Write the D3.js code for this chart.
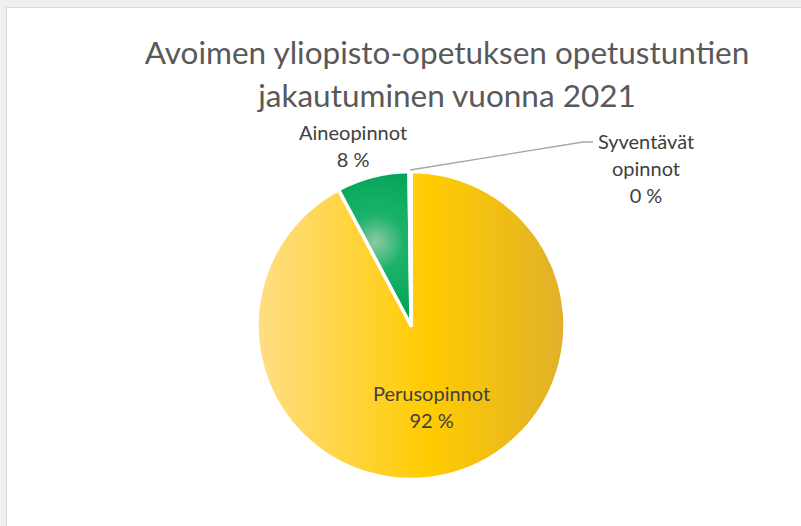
<!DOCTYPE html>
<html>
<head>
<meta charset="utf-8">
<script src="https://cdn.jsdelivr.net/npm/d3@7"></script>
<style>
  html, body { margin: 0; padding: 0; background: #f0f0f0; }
  svg { display: block; }
  text { font-family: Lato, "Open Sans", sans-serif; }
</style>
</head>
<body>
<svg id="chart" width="801" height="526"></svg>
<script>
// ---- data ----
const titleLines = ["Avoimen yliopisto-opetuksen opetustuntien", "jakautuminen vuonna 2021"];
const categories = ["Perusopinnot", "Aineopinnot", "Syventävät opinnot"];
const labelLines = [["Perusopinnot"], ["Aineopinnot"], ["Syventävät", "opinnot"]];
const shares = [92.2, 7.6, 0.2];

// ---- layout ----
const W = 801, H = 526;
const cx = 411, cy = 325.5, r = 154;

const svg = d3.select("#chart");
const defs = svg.append("defs");

// chart area (white panel with thin border)
svg.append("rect")
  .attr("x", 6.5).attr("y", 7.5)
  .attr("width", W).attr("height", H)
  .attr("fill", "#ffffff")
  .attr("stroke", "#d9d9d9");

// gradients (user space = the pie group, origin at pie centre)
const yellowGrad = defs.append("linearGradient")
  .attr("id", "gradYellow")
  .attr("gradientUnits", "userSpaceOnUse")
  .attr("x1", -r).attr("x2", r).attr("y1", 0).attr("y2", 0);
yellowGrad.append("stop").attr("offset", "0%").attr("stop-color", "#ffde85");
yellowGrad.append("stop").attr("offset", "56%").attr("stop-color", "#ffcc00");
yellowGrad.append("stop").attr("offset", "100%").attr("stop-color", "#e1b02a");

const greenGrad = defs.append("radialGradient")
  .attr("id", "gradGreen")
  .attr("gradientUnits", "userSpaceOnUse")
  .attr("cx", -35).attr("cy", -83).attr("r", 80);
greenGrad.append("stop").attr("offset", "0%").attr("stop-color", "#8ccaa2");
greenGrad.append("stop").attr("offset", "35%").attr("stop-color", "#1cb26b");
greenGrad.append("stop").attr("offset", "100%").attr("stop-color", "#00a353");

const fills = ["url(#gradYellow)", "url(#gradGreen)", "#a5a5a5"];

// title
const title = svg.append("text")
  .attr("text-anchor", "middle")
  .attr("fill", "#595959")
  .style("font-size", "31.5px");
title.selectAll("tspan")
  .data(titleLines)
  .join("tspan")
  .attr("x", 447)
  .attr("y", (d, i) => 64 + i * 43)
  .text(d => d);

// pie
const pie = d3.pie().sort(null).value(d => d);
const arcs = pie(shares);
const arc = d3.arc().innerRadius(0).outerRadius(r);

const g = svg.append("g").attr("transform", `translate(${cx},${cy})`);

g.selectAll("path.slice")
  .data(arcs)
  .join("path")
  .attr("class", "slice")
  .attr("d", arc)
  .attr("fill", (d, i) => fills[i])
  .attr("stroke", "#ffffff")
  .attr("stroke-width", 3.5)
  .attr("stroke-linejoin", "round");

// labels
const innerLabelArc = d3.arc().innerRadius(r * 0.55).outerRadius(r * 0.55);
const outerLabelArc = d3.arc().innerRadius(r * 1.2).outerRadius(r * 1.2);

function labelPos(d, i) {
  if (i === 0) {
    const [x, y] = innerLabelArc.centroid(d);
    return [x, y];
  }
  if (i === 1) {
    const [x, y] = outerLabelArc.centroid(d);
    return [x - 12, y];
  }
  // tiny slice: label pushed out to the right with a leader line
  return [235, -157];
}

const lineGap = 27;
arcs.forEach((d, i) => {
  const [lx, ly] = labelPos(d, i);
  const lines = labelLines[i].concat([Math.round(d.data) + " %"]);
  const t = g.append("text")
    .attr("text-anchor", "middle")
    .attr("fill", "#404040")
    .style("font-size", "20px");
  const top = ly - (lines.length - 1) * lineGap / 2;
  t.selectAll("tspan")
    .data(lines)
    .join("tspan")
    .attr("x", lx)
    .attr("y", (s, k) => top + k * lineGap + 7)
    .text(s => s);

  if (i === 2) {
    // leader line from slice edge to label
    const a = d.startAngle;
    const sx = Math.sin(a) * r, sy = -Math.cos(a) * r;
    g.append("polyline")
      .attr("points", [[sx + 1, sy - 1.5], [172, -183.5], [182, -183.5]].map(p => p.join(",")).join(" "))
      .attr("fill", "none")
      .attr("stroke", "#a6a6a6")
      .attr("stroke-width", 1.3);
  }
});
</script>
</body>
</html>
